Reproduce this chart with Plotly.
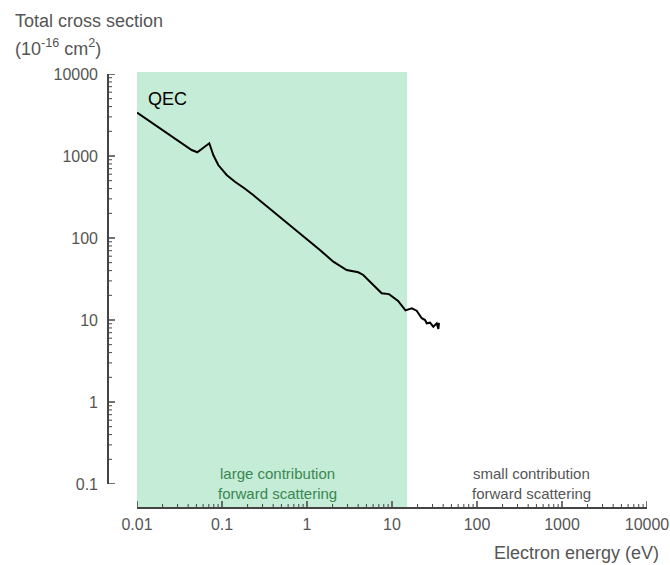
import plotly.graph_objects as go

# Data: electron energy (eV) and total cross section QEC (10^-16 cm^2)
energy = [0.01, 0.044, 0.0512, 0.0709, 0.079, 0.0904, 0.1135, 0.142, 0.1815, 0.233, 1.42, 2.04,
          2.93, 4.01, 4.59, 6.03, 7.56, 9.22, 11.8, 14.4, 17.1, 19.5, 22.4, 24.5, 25.6,
          28.0, 30.6, 33.6, 35.1, 35.7]
qec = [3380, 1183, 1110, 1429, 1028, 776, 587, 486, 407, 334, 71.4, 51.4,
       40.7, 38.2, 35.4, 26.7, 21.2, 20.7, 17.1, 13.1, 13.9, 13.0, 10.5, 10.0, 9.12,
       9.27, 8.28, 9.12, 7.8, 9.2]

band_range = [0.01, 15]
x_tickvals = [0.01, 0.1, 1, 10, 100, 1000, 10000]
x_ticktext = ["0.01", "0.1", "1", "10", "100", "1000", "10000"]
y_tickvals = [0.1, 1, 10, 100, 1000, 10000]
y_ticktext = ["0.1", "1", "10", "100", "1000", "10000"]
minor_mult = [2, 3, 4, 5, 6, 7, 8, 9]

FONT = "Liberation Sans, Arial, sans-serif"
GRAY = "#555555"
AXIS = "#444444"
GREEN_FILL = "#c4ecd6"
GREEN_TEXT = "#3a8752"

W, H = 670, 565
ML, MR, MT, MB = 107, 23, 72, 56
PW, PH = W - ML - MR, H - MT - MB
MAJOR_LEN, MINOR_LEN = 7, 4


def px(xp):
    return (xp - ML) / PW


def py(yp):
    return (H - MB - yp) / PH


x_minor = [m * d for d in x_tickvals[:-1] for m in minor_mult]
y_minor = [m * d for d in y_tickvals[:-1] for m in minor_mult]

xdom = [px(137), 1]
ydom = [py(484), py(74)]


def seg_x(vals, length):
    xs, ys = [], []
    for v in vals:
        xs += [v, v, None]
        ys += [0, length, None]
    return xs, ys


def seg_y(vals, length):
    xs, ys = [], []
    for v in vals:
        xs += [0, length, None]
        ys += [v, v, None]
    return xs, ys


fig = go.Figure()
fig.add_trace(go.Scatter(x=energy, y=qec, mode="lines",
                         line=dict(color="black", width=2), showlegend=False,
                         hoverinfo="skip"))

# x axis: line + ticks drawn on the log energy scale (x) against a pixel helper axis (y2)
xs, ys = seg_x(x_tickvals, MAJOR_LEN)
fig.add_trace(go.Scatter(x=xs, y=ys, xaxis="x", yaxis="y2", mode="lines",
                         line=dict(color=AXIS, width=1.5), showlegend=False, hoverinfo="skip"))
xs, ys = seg_x(x_minor, MINOR_LEN)
fig.add_trace(go.Scatter(x=xs, y=ys, xaxis="x", yaxis="y2", mode="lines",
                         line=dict(color=AXIS, width=1), showlegend=False, hoverinfo="skip"))
fig.add_trace(go.Scatter(x=[x_tickvals[0], x_tickvals[-1]], y=[0, 0], xaxis="x", yaxis="y2",
                         mode="lines", line=dict(color=AXIS, width=2), showlegend=False,
                         hoverinfo="skip"))

# y axis: line + ticks drawn on the log cross-section scale (y) against a pixel helper axis (x2)
xs, ys = seg_y(y_tickvals, MAJOR_LEN)
fig.add_trace(go.Scatter(x=xs, y=ys, xaxis="x2", yaxis="y", mode="lines",
                         line=dict(color=AXIS, width=1.5), showlegend=False, hoverinfo="skip"))
xs, ys = seg_y(y_minor, MINOR_LEN)
fig.add_trace(go.Scatter(x=xs, y=ys, xaxis="x2", yaxis="y", mode="lines",
                         line=dict(color=AXIS, width=1), showlegend=False, hoverinfo="skip"))
fig.add_trace(go.Scatter(x=[0, 0], y=[y_tickvals[0], y_tickvals[-1]], xaxis="x2", yaxis="y",
                         mode="lines", line=dict(color=AXIS, width=2), showlegend=False,
                         hoverinfo="skip"))

# shaded region (large forward-scattering contribution)
fig.add_shape(type="rect", xref="x", yref="paper", x0=band_range[0], x1=band_range[1],
              y0=0, y1=1, fillcolor=GREEN_FILL, line=dict(width=0), layer="below")

common = dict(type="log", automargin=False, showgrid=False, zeroline=False,
              showline=False, ticks="", fixedrange=True,
              tickfont=dict(family=FONT, size=16, color=GRAY),
              anchor="free", position=0)
helper = dict(automargin=False, showgrid=False, zeroline=False, showline=False,
              ticks="", showticklabels=False, fixedrange=True, domain=[0, 1])

fig.update_layout(
    width=W, height=H,
    margin=dict(l=ML, r=MR, t=MT, b=MB),
    paper_bgcolor="white", plot_bgcolor="rgba(0,0,0,0)",
    font=dict(family=FONT, color=GRAY),
    xaxis=dict(common, range=[-2, 4], domain=xdom,
               tickvals=x_tickvals, ticktext=x_ticktext, ticklabelstandoff=4),
    yaxis=dict(common, range=[-1, 4], domain=ydom,
               tickvals=y_tickvals, ticktext=y_ticktext, ticklabelstandoff=9),
    xaxis2=dict(helper, range=[-1, PW - 1], anchor="y"),
    yaxis2=dict(helper, range=[-1, PH - 1], anchor="x"),
)

ann = [
    dict(text="Total cross section", x=px(13), y=py(21), xanchor="left", yanchor="middle",
         font=dict(family=FONT, size=18, color=GRAY)),
    dict(text="(10<sup>-16</sup> cm<sup>2</sup>)", x=px(13), y=py(47), xanchor="left",
         yanchor="middle", font=dict(family=FONT, size=18, color=GRAY)),
    dict(text="Electron energy (eV)", x=px(661), y=py(553), xanchor="right",
         yanchor="middle", font=dict(family=FONT, size=18, color=GRAY)),
    dict(text="QEC", x=px(146), y=py(99), xanchor="left", yanchor="middle",
         font=dict(family=FONT, size=18, color="black")),
    dict(text="large contribution", x=px(277), y=py(473), xanchor="center",
         yanchor="middle", font=dict(family=FONT, size=15, color=GREEN_TEXT)),
    dict(text="forward scattering", x=px(277), y=py(493), xanchor="center",
         yanchor="middle", font=dict(family=FONT, size=15, color=GREEN_TEXT)),
    dict(text="small contribution", x=px(531), y=py(473), xanchor="center",
         yanchor="middle", font=dict(family=FONT, size=15, color="#555555")),
    dict(text="forward scattering", x=px(531), y=py(493), xanchor="center",
         yanchor="middle", font=dict(family=FONT, size=15, color="#555555")),
]
for a in ann:
    fig.add_annotation(xref="paper", yref="paper", showarrow=False, **a)

fig.write_html("out.html")
